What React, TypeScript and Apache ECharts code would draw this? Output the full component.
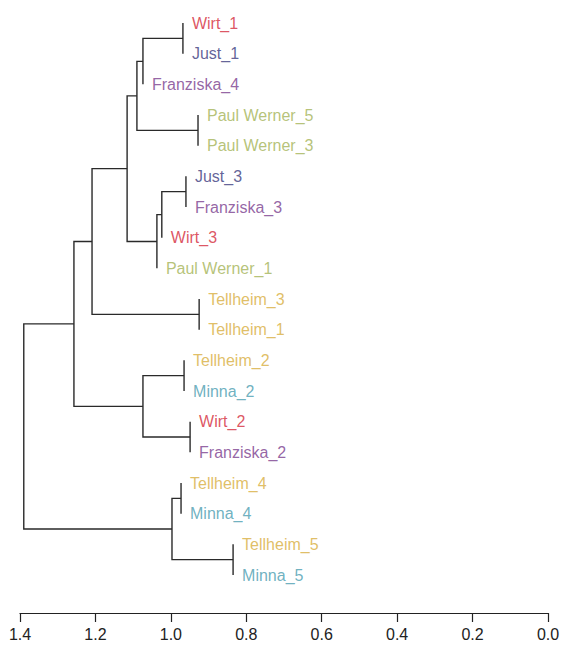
import React, { useEffect, useRef } from "react";
import * as echarts from "echarts";

// Leaves in display order (top to bottom)
const leafNames = [
  "Wirt_1", "Just_1", "Franziska_4", "Paul Werner_5", "Paul Werner_3",
  "Just_3", "Franziska_3", "Wirt_3", "Paul Werner_1", "Tellheim_3",
  "Tellheim_1", "Tellheim_2", "Minna_2", "Wirt_2", "Franziska_2",
  "Tellheim_4", "Minna_4", "Tellheim_5", "Minna_5",
];
const leafCharacters = [
  "Wirt", "Just", "Franziska", "Paul Werner", "Paul Werner",
  "Just", "Franziska", "Wirt", "Paul Werner", "Tellheim",
  "Tellheim", "Tellheim", "Minna", "Wirt", "Franziska",
  "Tellheim", "Minna", "Tellheim", "Minna",
];
const characterColors: Record<string, string> = {
  "Wirt": "#d42a3a",
  "Just": "#3a3a7e",
  "Franziska": "#7a3d8e",
  "Paul Werner": "#a4b356",
  "Tellheim": "#d8ae3e",
  "Minna": "#4a9db0",
};

// hclust-style merges: negative = leaf (1-based), positive = earlier merge (1-based)
const mergeLeft = [-1, 1, -4, 2, -6, 5, 6, 4, -10, 8, -12, -14, 11, 10, -16, -18, 15, 14];
const mergeRight = [-2, -3, -5, 3, -7, -8, -9, 7, -11, 9, -13, -15, 12, 13, -17, -19, 16, 17];
const mergeHeight = [
  0.968, 1.074, 0.928, 1.090, 0.960, 1.024, 1.037, 1.116, 0.925,
  1.209, 0.965, 0.949, 1.074, 1.257, 0.973, 0.835, 0.997, 1.390,
];

const axisTicks = [1.4, 1.2, 1.0, 0.8, 0.6, 0.4, 0.2, 0.0];

function buildTree() {
  const leafH: number[] = new Array(leafNames.length).fill(0);
  const mergeY: number[] = [];
  const segs: number[][] = [];
  const nodeY = (ref: number) => (ref < 0 ? -ref - 1 : mergeY[ref - 1]);
  for (let i = 0; i < mergeHeight.length; i++) {
    const h = mergeHeight[i];
    const l = mergeLeft[i];
    const r = mergeRight[i];
    if (l < 0) leafH[-l - 1] = h;
    if (r < 0) leafH[-r - 1] = h;
    const yl = nodeY(l);
    const yr = nodeY(r);
    const hl = l < 0 ? h : mergeHeight[l - 1];
    const hr = r < 0 ? h : mergeHeight[r - 1];
    mergeY.push((yl + yr) / 2);
    segs.push([hl, yl, hr, yr, h]);
  }
  return { leafH, segs };
}

export default function App() {
  const ref = useRef<HTMLDivElement>(null);
  useEffect(() => {
    if (!ref.current) return;
    const chart = echarts.init(ref.current, undefined, { renderer: "svg" });
    const { leafH, segs } = buildTree();
    const font = "'Liberation Sans', Arial, Helvetica, sans-serif";
    chart.setOption({
      animation: false,
      backgroundColor: "#ffffff",
      grid: { left: 20, right: 21, top: 23, height: 552 },
      xAxis: {
        type: "value",
        position: "bottom",
        inverse: true,
        min: 0,
        max: 1.4,
        interval: 0.2,
        offset: 38,
        splitLine: { show: false },
        axisLine: { show: true, onZero: false, lineStyle: { color: "#222", width: 1.2 } },
        axisTick: { show: true, inside: false, length: 9, lineStyle: { color: "#222", width: 1.2 } },
        axisLabel: {
          fontSize: 16,
          color: "#222",
          margin: 13,
          fontFamily: font,
          formatter: (v: number) => v.toFixed(1),
        },
      },
      yAxis: { type: "value", min: 0, max: 18, inverse: true, show: false },
      series: [
        {
          type: "custom",
          silent: true,
          clip: false,
          data: segs,
          renderItem: (_params: any, api: any) => {
            const hl = api.value(0), yl = api.value(1), hr = api.value(2), yr = api.value(3), h = api.value(4);
            const p1 = api.coord([hl, yl]);
            const p2 = api.coord([h, yl]);
            const p3 = api.coord([h, yr]);
            const p4 = api.coord([hr, yr]);
            return {
              type: "polyline",
              shape: { points: [p1, p2, p3, p4] },
              style: { stroke: "#2a2a2a", lineWidth: 1.4, fill: "none" },
            };
          },
        },
        {
          type: "scatter",
          silent: true,
          symbolSize: 0,
          data: leafNames.map((name, i) => ({
            name,
            value: [leafH[i], i],
            label: { color: characterColors[leafCharacters[i]] },
          })),
          label: {
            show: true,
            position: "right",
            distance: 9,
            fontSize: 16,
            fontFamily: font,
            formatter: (p: any) => p.name,
          },
        },
      ],
    });
    return () => chart.dispose();
  }, []);
  return (
    <div
      ref={ref}
      style={{ position: "fixed", left: 0, top: 0, width: 569, height: 650 }}
      data-ticks={axisTicks.join(",")}
    />
  );
}
